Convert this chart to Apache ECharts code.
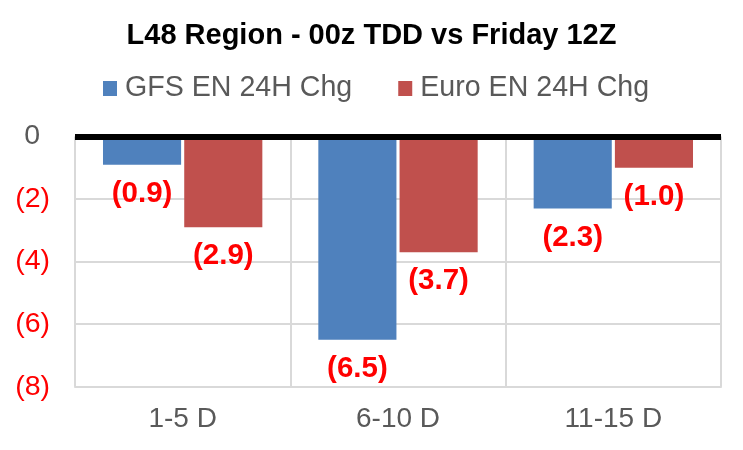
<!DOCTYPE html>
<html>
<head>
<meta charset="utf-8">
<script src="https://cdn.jsdelivr.net/npm/echarts@6/dist/echarts.min.js"></script>
<style>html,body{margin:0;padding:0;background:#fff}#c{width:743px;height:450px}</style>
</head>
<body>
<div id="c"></div>
<script>
var categories = ['1-5 D', '6-10 D', '11-15 D'];
var gfsValues = [-0.9, -6.5, -2.3];
var euroValues = [-2.9, -3.7, -1.0];
var seriesNames = ['GFS EN 24H Chg', 'Euro EN 24H Chg'];
var yTicks = [0, -2, -4, -6, -8];

var chart = echarts.init(document.getElementById('c'), null, {renderer: 'canvas'});
var F = '"Liberation Sans", Arial, sans-serif';
function paren(v) { return '(' + Math.abs(v).toFixed(1) + ')'; }
var labelCfg = {
  show: true, position: 'bottom', distance: 14,
  formatter: function (p) { return paren(p.value); },
  color: '#FF0000', fontWeight: 'bold', fontSize: 29.5, fontFamily: F
};
chart.setOption({
  animation: false,
  title: {
    text: 'L48 Region - 00z TDD vs Friday 12Z',
    left: 'center', top: 16,
    textStyle: {fontFamily: F, fontSize: 29, fontWeight: 'bold', color: '#000'}
  },
  legend: {
    data: seriesNames,
    left: 103, top: 74, padding: 0,
    itemWidth: 14, itemHeight: 15, itemGap: 46,
    icon: 'rect',
    textStyle: {fontFamily: F, fontSize: 28.6, color: '#595959', padding: [0, 0, 0, 3]}
  },
  grid: {left: 75, right: 22, top: 136.5, bottom: 63.3, containLabel: false},
  xAxis: {
    type: 'category', data: categories,
    axisLine: {onZero: false, show: true, lineStyle: {color: '#D9D9D9', width: 2}},
    axisTick: {show: false},
    axisLabel: {fontFamily: F, fontSize: 28, color: '#595959', margin: 19},
    splitLine: {show: true, lineStyle: {color: '#D9D9D9', width: 2}}
  },
  yAxis: {
    type: 'value', min: -8, max: 0, interval: 2,
    axisLine: {show: false}, axisTick: {show: false},
    axisLabel: {
      fontFamily: F, fontSize: 28.5, margin: 25,
      formatter: function (v) { return v === 0 ? '{z|0}' : '{n|(' + Math.abs(v) + ')}'; },
      rich: {
        z: {color: '#595959', fontFamily: F, fontSize: 28.5, padding: [0, 10, 0, 0]},
        n: {color: '#FF0000', fontFamily: F, fontSize: 28.5}
      }
    },
    splitLine: {show: true, lineStyle: {color: '#D9D9D9', width: 2}}
  },
  series: [
    {
      name: seriesNames[0], type: 'bar', data: gfsValues,
      itemStyle: {color: '#4F81BD'},
      barCategoryGap: '26%', barGap: '4%',
      label: labelCfg,
      markLine: {
        silent: true, symbol: 'none', label: {show: false},
        lineStyle: {color: '#000', width: 6, type: 'solid'},
        data: [{yAxis: 0}]
      },
      z: 2
    },
    {
      name: seriesNames[1], type: 'bar', data: euroValues,
      itemStyle: {color: '#C0504D'},
      barCategoryGap: '26%', barGap: '4%',
      label: labelCfg,
      z: 2
    }
  ]
});
</script>
</body>
</html>
